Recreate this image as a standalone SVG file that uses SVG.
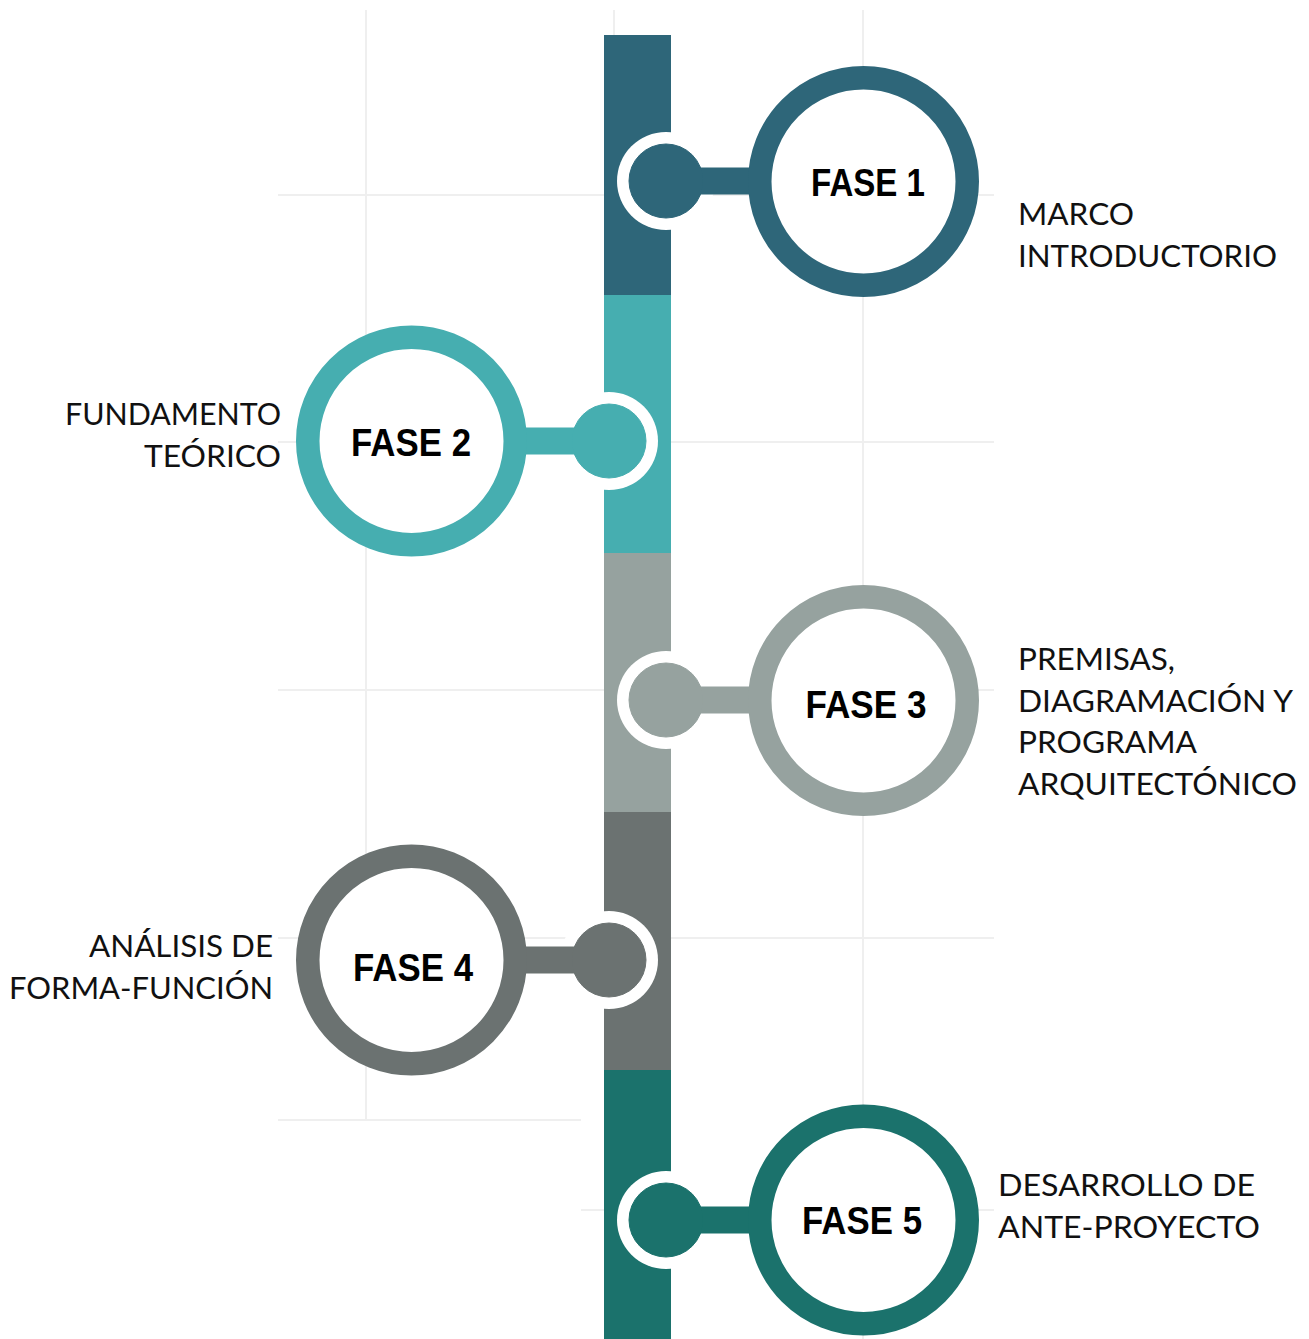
<svg xmlns="http://www.w3.org/2000/svg" width="1309" height="1339" viewBox="0 0 1309 1339">
<style>
.grid{stroke:#efefef;stroke-width:2;fill:none}
.ring{fill:#ffffff;stroke-width:23.5}
.fase{font-family:"Liberation Sans",Arial,sans-serif;font-weight:bold;font-size:39px;fill:#000000;text-anchor:middle}
.lbl{font-family:Lato,"Liberation Sans",Arial,sans-serif;font-size:30px;fill:#111111}
.lblR{text-anchor:end}
.halo{fill:#ffffff}
.c1{fill:#2e6679;stroke:#2e6679}
.c2{fill:#46aeb0;stroke:#46aeb0}
.c3{fill:#96a29f;stroke:#96a29f}
.c4{fill:#6b7271;stroke:#6b7271}
.c5{fill:#1b726c;stroke:#1b726c}
</style>
<rect x="0" y="0" width="1309" height="1339" fill="#ffffff"/>
<g id="grid">
<line class="grid" x1="366" y1="10" x2="366" y2="1120"/>
<line class="grid" x1="614" y1="10" x2="614" y2="1339"/>
<line class="grid" x1="863" y1="10" x2="863" y2="1339"/>
<line class="grid" x1="278" y1="195" x2="994" y2="195"/>
<line class="grid" x1="278" y1="442" x2="994" y2="442"/>
<line class="grid" x1="278" y1="690" x2="994" y2="690"/>
<line class="grid" x1="278" y1="938" x2="994" y2="938"/>
<line class="grid" x1="278" y1="1120" x2="581" y2="1120"/>
<line class="grid" x1="581" y1="1210" x2="994" y2="1210"/>
</g>
<g id="timeline">
<rect x="604" y="35" width="67" height="260" fill="#2e6679"/>
<rect x="604" y="295" width="67" height="258" fill="#46aeb0"/>
<rect x="604" y="553" width="67" height="259" fill="#96a29f"/>
<rect x="604" y="812" width="67" height="258" fill="#6b7271"/>
<rect x="604" y="1070" width="67" height="269" fill="#1b726c"/>
</g>
<g id="connectors">
<circle class="halo" cx="666" cy="181" r="49"/>
<rect class="c1" x="666" y="168" width="90" height="26" stroke="none"/>
<circle class="c1" cx="666" cy="181" r="37" stroke="none"/>
<circle class="halo" cx="609" cy="441" r="49"/>
<rect class="c2" x="519" y="428" width="90" height="26" stroke="none"/>
<circle class="c2" cx="609" cy="441" r="37" stroke="none"/>
<circle class="halo" cx="666" cy="700" r="49"/>
<rect class="c3" x="666" y="687" width="90" height="26" stroke="none"/>
<circle class="c3" cx="666" cy="700" r="37" stroke="none"/>
<circle class="halo" cx="609" cy="960" r="49"/>
<rect class="c4" x="519" y="947" width="90" height="26" stroke="none"/>
<circle class="c4" cx="609" cy="960" r="37" stroke="none"/>
<circle class="halo" cx="666" cy="1220" r="49"/>
<rect class="c5" x="666" y="1207" width="90" height="26" stroke="none"/>
<circle class="c5" cx="666" cy="1220" r="37" stroke="none"/>
</g>
<g id="fase1">
<circle class="ring" cx="863.5" cy="181.5" r="103.75" stroke="#2e6679"/>
<text class="fase" x="868" y="196" textLength="114" lengthAdjust="spacingAndGlyphs">FASE 1</text>
<text class="lbl" x="1018" y="225" textLength="116" lengthAdjust="spacingAndGlyphs">MARCO</text>
<text class="lbl" x="1018" y="267" textLength="259" lengthAdjust="spacingAndGlyphs">INTRODUCTORIO</text>
</g>
<g id="fase2">
<circle class="ring" cx="411.5" cy="441" r="103.75" stroke="#46aeb0"/>
<text class="fase" x="411" y="456" textLength="120" lengthAdjust="spacingAndGlyphs">FASE 2</text>
<text class="lbl lblR" x="281" y="425" textLength="216" lengthAdjust="spacingAndGlyphs">FUNDAMENTO</text>
<text class="lbl lblR" x="281" y="467" textLength="137" lengthAdjust="spacingAndGlyphs">TEÓRICO</text>
</g>
<g id="fase3">
<circle class="ring" cx="863.5" cy="700.5" r="103.75" stroke="#96a29f"/>
<text class="fase" x="866" y="718" textLength="121" lengthAdjust="spacingAndGlyphs">FASE 3</text>
<text class="lbl" x="1018" y="670" textLength="157" lengthAdjust="spacingAndGlyphs">PREMISAS,</text>
<text class="lbl" x="1018" y="712" textLength="275" lengthAdjust="spacingAndGlyphs">DIAGRAMACIÓN Y</text>
<text class="lbl" x="1018" y="753" textLength="179" lengthAdjust="spacingAndGlyphs">PROGRAMA</text>
<text class="lbl" x="1018" y="795" textLength="279" lengthAdjust="spacingAndGlyphs">ARQUITECTÓNICO</text>
</g>
<g id="fase4">
<circle class="ring" cx="411.5" cy="960" r="103.75" stroke="#6b7271"/>
<text class="fase" x="413" y="981" textLength="120" lengthAdjust="spacingAndGlyphs">FASE 4</text>
<text class="lbl lblR" x="273" y="957" textLength="184" lengthAdjust="spacingAndGlyphs">ANÁLISIS DE</text>
<text class="lbl lblR" x="273" y="999" textLength="264" lengthAdjust="spacingAndGlyphs">FORMA-FUNCIÓN</text>
</g>
<g id="fase5">
<circle class="ring" cx="863.5" cy="1220" r="103.75" stroke="#1b726c"/>
<text class="fase" x="862" y="1234" textLength="120" lengthAdjust="spacingAndGlyphs">FASE 5</text>
<text class="lbl" x="998" y="1196" textLength="257" lengthAdjust="spacingAndGlyphs">DESARROLLO DE</text>
<text class="lbl" x="998" y="1238" textLength="262" lengthAdjust="spacingAndGlyphs">ANTE-PROYECTO</text>
</g>
</svg>
